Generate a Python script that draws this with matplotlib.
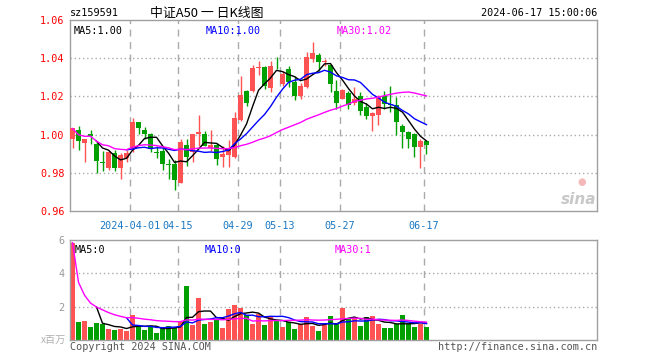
import matplotlib
matplotlib.use("Agg")
from matplotlib import pyplot as plt
import numpy as np
import pandas as pd

# daily candles, 2024-03-18 .. 2024-06-17 (60 trading days)
opens = [0.9978, 1.0023, 0.9956, 1.0002, 0.9949, 0.9857, 0.9823, 0.9905, 0.9823, 0.9879,
         0.9926, 1.0065, 1.0024, 1.0002, 0.9906, 0.9914, 0.9845, 0.9844, 0.9749, 0.9944,
         0.9907, 1.0002, 1.0002, 0.9932, 0.9944, 0.9884, 0.9891, 0.9883, 1.0077, 1.0229,
         1.0226, 1.0347, 1.0354, 1.0246, 1.0366, 1.0265, 1.0343, 1.0277, 1.0200, 1.0249,
         1.0396, 1.0417, 1.0380, 1.0365, 1.0229, 1.0186, 1.0217, 1.0168, 1.0200, 1.0142,
         1.0098, 1.0102, 1.0200, 1.0159, 1.0154, 1.0045, 1.0014, 1.0002, 0.9935, 0.9966]
highs = [1.0034, 1.0045, 0.9976, 1.0023, 0.9965, 0.9912, 0.9920, 0.9919, 0.9902, 0.9917,
         1.0086, 1.0065, 1.0042, 1.0007, 0.9940, 0.9938, 0.9870, 0.9865, 0.9975, 0.9975,
         1.0002, 1.0102, 1.0019, 1.0024, 0.9958, 0.9940, 0.9970, 1.0119, 1.0308, 1.0235,
         1.0365, 1.0387, 1.0359, 1.0387, 1.0405, 1.0335, 1.0359, 1.0308, 1.0270, 1.0432,
         1.0484, 1.0428, 1.0396, 1.0365, 1.0287, 1.0238, 1.0229, 1.0247, 1.0221, 1.0168,
         1.0117, 1.0207, 1.0229, 1.0256, 1.0195, 1.0054, 1.0017, 1.0007, 0.9979, 0.9966]
lows = [0.9932, 0.9919, 0.9857, 0.9949, 0.9800, 0.9812, 0.9817, 0.9809, 0.9765, 0.9854,
        0.9907, 1.0002, 0.9979, 0.9907, 0.9879, 0.9817, 0.9765, 0.9709, 0.9744, 0.9833,
        0.9856, 0.9941, 0.9938, 0.9914, 0.9839, 0.9832, 0.9831, 0.9879, 1.0072, 1.0150,
        1.0221, 1.0314, 1.0238, 1.0221, 1.0343, 1.0256, 1.0249, 1.0182, 1.0189, 1.0246,
        1.0382, 1.0333, 1.0361, 1.0224, 1.0133, 1.0186, 1.0133, 1.0154, 1.0102, 1.0081,
        1.0019, 1.0049, 1.0133, 1.0119, 0.9996, 0.9932, 0.9932, 0.9884, 0.9826, 0.9896]
closes = [1.0032, 0.9966, 0.9975, 0.9994, 0.9861, 0.9853, 0.9910, 0.9823, 0.9891, 0.9902,
          1.0066, 1.0036, 1.0002, 0.9923, 0.9903, 0.9844, 0.9842, 0.9760, 0.9959, 0.9884,
          1.0002, 1.0012, 0.9940, 0.9944, 0.9873, 0.9896, 0.9923, 1.0086, 1.0207, 1.0165,
          1.0349, 1.0353, 1.0256, 1.0361, 1.0362, 1.0317, 1.0277, 1.0200, 1.0256, 1.0404,
          1.0428, 1.0379, 1.0384, 1.0265, 1.0165, 1.0235, 1.0156, 1.0189, 1.0124, 1.0095,
          1.0112, 1.0195, 1.0159, 1.0154, 1.0066, 1.0014, 0.9975, 0.9935, 0.9966, 0.9944]
# volume, millions
volumes = [5.84, 1.08, 1.14, 0.80, 1.02, 0.98, 0.66, 0.60, 0.66, 0.54,
           1.50, 0.82, 0.60, 0.78, 0.42, 0.80, 0.86, 0.74, 1.10, 3.24,
           0.88, 2.52, 0.96, 1.08, 1.26, 0.72, 1.88, 2.08, 1.94, 1.49,
           0.97, 1.59, 0.90, 1.38, 1.18, 0.80, 1.10, 0.66, 0.97, 1.38,
           0.85, 0.54, 0.90, 1.44, 1.00, 1.94, 1.25, 1.25, 0.84, 1.39,
           1.45, 0.97, 0.72, 0.72, 0.96, 1.50, 0.96, 0.79, 0.98, 0.79]

tick_idx = [10, 18, 28, 35, 45, 59]
tick_labels = ["2024-04-01", "04-15", "04-29", "05-13", "05-27", "06-17"]

RED = "#ff5252"
GREEN = "#00a000"
GRID = "#aaaaaa"
MONO = "DejaVu Sans Mono"

df = pd.DataFrame({"o": opens, "h": highs, "l": lows, "c": closes, "v": volumes})
x = np.arange(len(df))
up = df["c"] >= df["o"]
colors = np.where(up, RED, GREEN)

ma5 = df["c"].rolling(5).mean()
ma10 = df["c"].rolling(10).mean()
ma30 = df["c"].rolling(30, min_periods=1).mean()
vma5 = df["v"].rolling(5).mean()
vma10 = df["v"].rolling(10).mean()
vma30 = df["v"].rolling(30, min_periods=1).mean()

fig = plt.figure(figsize=(6.6, 3.6), dpi=100)
W, H = 660.0, 360.0
ax = fig.add_axes([70 / W, 1 - 211 / H, 527 / W, 191 / H])
axv = fig.add_axes([70 / W, 1 - 340 / H, 527 / W, 100 / H])

xlim = (-0.42, 87.42)
for a in (ax, axv):
    a.set_xlim(*xlim)
    for s in a.spines.values():
        s.set_color("#a0a0a0")
        s.set_linewidth(1.0)
    a.tick_params(length=0)
    a.set_xticks([])
    for t in tick_idx:
        a.axvline(t - 0.4, color=GRID, lw=1.0, dashes=(5, 4), zorder=0)

# price panel
ax.set_ylim(0.96, 1.06)
yt = [0.96, 0.98, 1.00, 1.02, 1.04, 1.06]
ax.set_yticks(yt)
ax.set_yticklabels(["%.2f" % v for v in yt], color="red", family=MONO, fontsize=7.3)
ax.tick_params(axis="y", pad=4)
for v in yt[1:-1]:
    ax.axhline(v, color=GRID, lw=1.0, ls=(0, (1, 2)), zorder=0)

ax.vlines(x, df["l"], df["h"], colors=colors, lw=1.0, zorder=2)
body = np.maximum((df["c"] - df["o"]).abs(), 0.0005)
ax.bar(x, body, bottom=np.minimum(df["o"], df["c"]), width=0.85, color=colors, lw=0, zorder=3)
ax.plot(x, ma5, color="black", lw=1.0, zorder=4)
ax.plot(x, ma10, color="#0000ff", lw=1.0, zorder=4)
ax.plot(x, ma30, color="#ff00ff", lw=1.0, zorder=4)

ax.text(4 / 527, 0.97, "MA5:1.00", transform=ax.transAxes, family=MONO, fontsize=7.3,
        color="black", va="top")
ax.text(136 / 527, 0.97, "MA10:1.00", transform=ax.transAxes, family=MONO, fontsize=7.3,
        color="#0000ff", va="top")
ax.text(267 / 527, 0.97, "MA30:1.02", transform=ax.transAxes, family=MONO, fontsize=7.3,
        color="#ff00ff", va="top")
for t, lab in zip(tick_idx, tick_labels):
    ax.text(t - 0.4, 0.955, lab, ha="center", va="top", family=MONO, fontsize=7.3,
            color="#1a78c2", clip_on=False)
ax.text(0.965, 0.06, "sina", transform=ax.transAxes, ha="center", va="center",
        fontsize=11, fontweight="bold", style="italic", color="#c8c8c8")
ax.text(0.97, 0.15, "\u25cf", transform=ax.transAxes, ha="center", va="center",
        fontsize=7, color="#f4b8b8")

# volume panel
axv.set_ylim(0, 6)
axv.set_yticks([2, 4, 6])
axv.set_yticklabels(["2", "4", "6"], color="#999999", family=MONO, fontsize=7.3)
axv.tick_params(axis="y", pad=4)
for v in [2, 4]:
    axv.axhline(v, color=GRID, lw=1.0, ls=(0, (1, 2)), zorder=0)
axv.bar(x, df["v"], width=0.85, color=colors, lw=0, zorder=2)
axv.plot(x, vma5, color="black", lw=1.0, zorder=3)
axv.plot(x, vma10, color="#0000ff", lw=1.0, zorder=3)
axv.plot(x, vma30, color="#ff00ff", lw=1.0, zorder=3)
axv.text(5 / 527, 0.95, "MA5:0", transform=axv.transAxes, family=MONO, fontsize=7.3,
         color="black", va="top")
axv.text(135 / 527, 0.95, "MA10:0", transform=axv.transAxes, family=MONO, fontsize=7.3,
         color="#0000ff", va="top")
axv.text(265 / 527, 0.95, "MA30:1", transform=axv.transAxes, family=MONO, fontsize=7.3,
         color="#ff00ff", va="top")

# header / footer texts (pixel positions)
fig.text(70 / W, 1 - 13 / H, "sz159591", family=MONO, fontsize=7.3, va="center")
fig.text(150 / W, 1 - 13 / H, "中证A50 一 日K线图", family=["Noto Sans CJK SC", "DejaVu Sans"],
         fontsize=9.3, va="center")
fig.text(597 / W, 1 - 13 / H, "2024-06-17 15:00:06", family=MONO, fontsize=7.3,
         va="center", ha="right")
fig.text(66 / W, 1 - 340 / H, "x百万", family=["Noto Sans CJK SC", "DejaVu Sans"],
         fontsize=7.3, va="center", ha="right", color="#b0b0b0")
fig.text(70 / W, 1 - 347 / H, "Copyright 2024 SINA.COM", family=MONO, fontsize=7.3,
         va="center", color="#555555")
fig.text(597 / W, 1 - 347 / H, "http://finance.sina.com.cn", family=MONO, fontsize=7.3,
         va="center", ha="right", color="#555555")

fig.savefig("out.png", dpi=100)
